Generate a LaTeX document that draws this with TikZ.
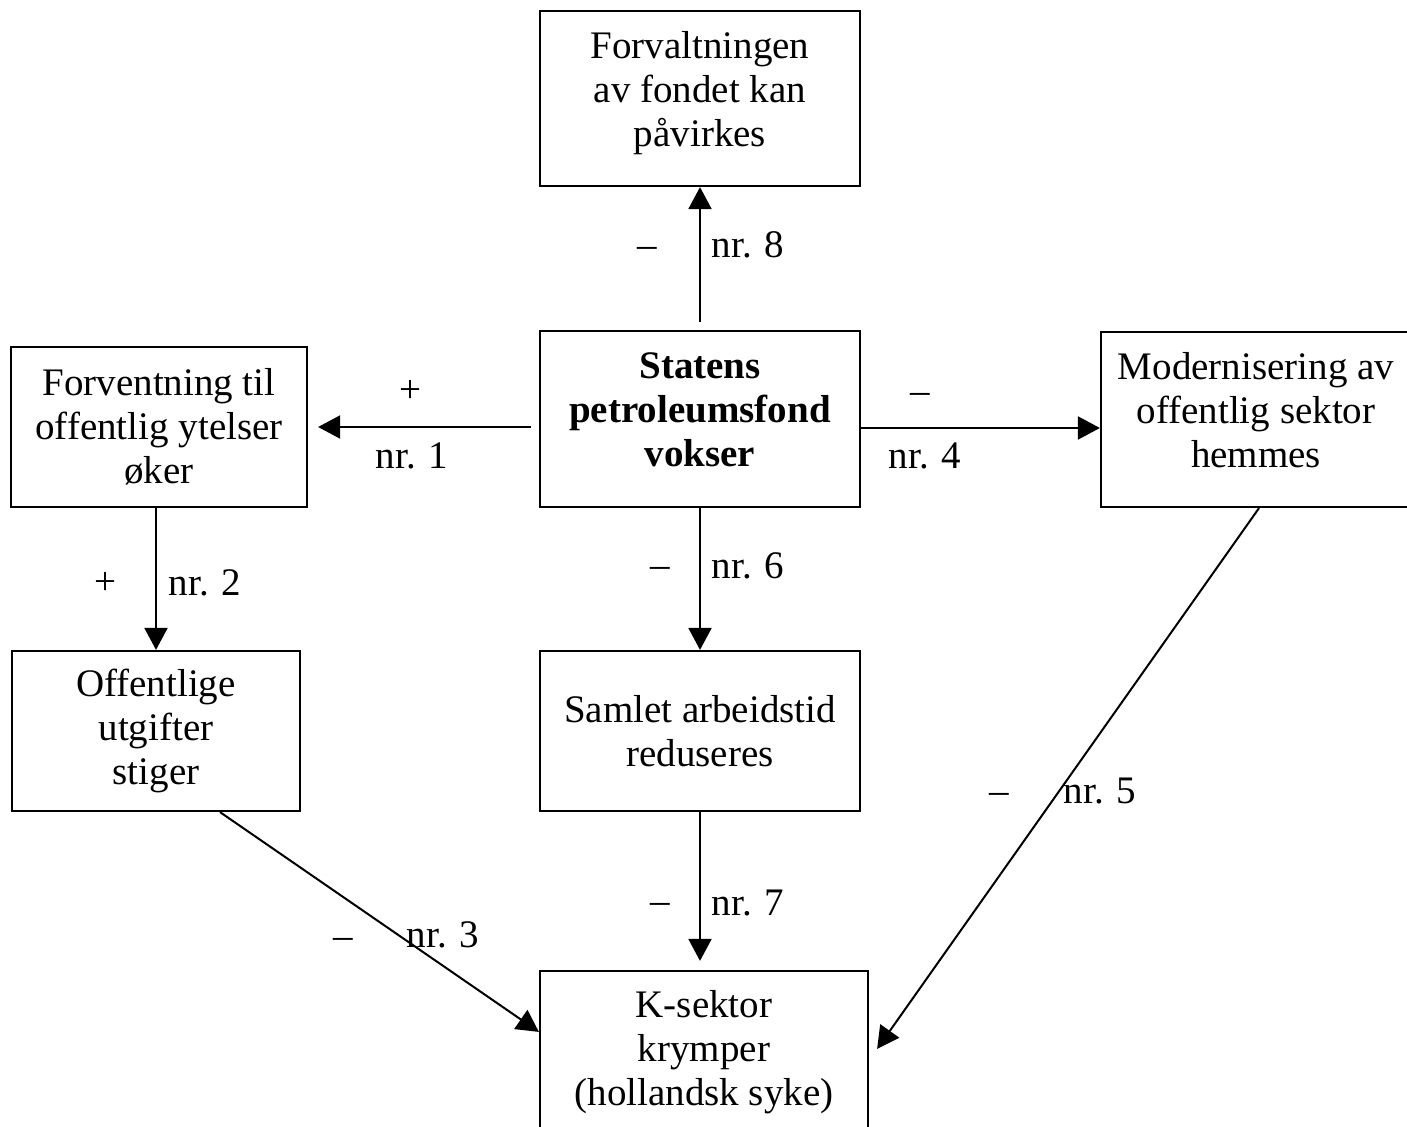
\documentclass[tikz,border=0pt]{standalone}
\usepackage{fontspec}
\setmainfont{Liberation Serif}
\usetikzlibrary{calc,arrows.meta,positioning}

\tikzset{
  box/.style={draw, line width=1.1pt, align=center, inner sep=0pt,
    font=\fontsize{19.5pt}{22pt}\selectfont},
  tall/.style={text depth=9.5pt},
  arr/.style={line width=1pt, -{Triangle[length=11pt,width=11.5pt]}},
  lbl/.style={anchor=base, inner sep=0pt, font=\fontsize{19.5pt}{22pt}\selectfont}
}

\begin{document}
\begin{tikzpicture}[x=0.5pt,y=-0.5pt]
\useasboundingbox (0,0) rectangle (1407,1127);
% boxes
\node[box, tall, minimum width=160pt, minimum height=87.5pt] (fond) at (700,98.5) {Forvaltningen\\av fondet kan\\påvirkes};
\node[box, tall, minimum width=160pt, minimum height=88pt] (stat) at (700,419) {\bfseries Statens\\\bfseries petroleumsfond\\\bfseries vokser};
\node[box, minimum width=148pt, minimum height=80pt] (forv) at (159,427) {Forventning til\\offentlig ytelser\\øker};
\node[box, tall, minimum width=155pt, minimum height=87.5pt] (mod) at (1256,419.5) {Modernisering av\\offentlig sektor\\hemmes};
\node[box, minimum width=144pt, minimum height=80pt] (off) at (156,731) {Offentlige\\utgifter\\stiger};
\node[box, minimum width=160pt, minimum height=80pt] (saml) at (700,731) {Samlet arbeidstid\\reduseres};
\node[box, minimum width=164pt, minimum height=81pt] (ks) at (704,1052) {K-sektor\\krymper\\(hollandsk syke)};

% connectors
\draw[arr, shorten <=4pt] (stat.north) -- (fond.south);
\draw[arr, shorten <=4pt, shorten >=5pt] (forv.east -| stat.west) -- (forv.east);
\draw[arr] ([yshift=-4.5pt]stat.east) -- ([yshift=-4.5pt]stat.east -| mod.west);
\draw[arr] (stat.south) -- (saml.north);
\draw[arr] (forv.south -| off.north) -- (off.north);
\draw[arr, shorten >=4.5pt] (saml.south) -- (saml.south |- ks.north);
\draw[arr] ([xshift=32pt]off.south) -- ([yshift=-31pt]ks.north west);
\draw[arr] ([xshift=1.5pt]mod.south) -- ([xshift=4pt,yshift=-39.5pt]ks.north east);

% labels
\node[lbl] (s8) at (647,258) {–};
\node[lbl] (n8) at (748,258) {nr. 8};
\node[lbl] (s1) at (410,403) {+};
\node[lbl] (n1) at (412,469) {nr. 1};
\node[lbl] (s4) at (920,404) {–};
\node[lbl] (n4) at (925,469) {nr. 4};
\node[lbl] (s6) at (660,578) {–};
\node[lbl] (n6) at (748,579) {nr. 6};
\node[lbl] (s2) at (105,595) {+};
\node[lbl] (n2) at (205,596) {nr. 2};
\node[lbl] (s7) at (660,913) {–};
\node[lbl] (n7) at (748,915) {nr. 7};
\node[lbl] (s3) at (343,948) {–};
\node[lbl] (n3) at (443,947) {nr. 3};
\node[lbl] (s5) at (999,803) {–};
\node[lbl] (n5) at (1100,803) {nr. 5};
\end{tikzpicture}
\end{document}
